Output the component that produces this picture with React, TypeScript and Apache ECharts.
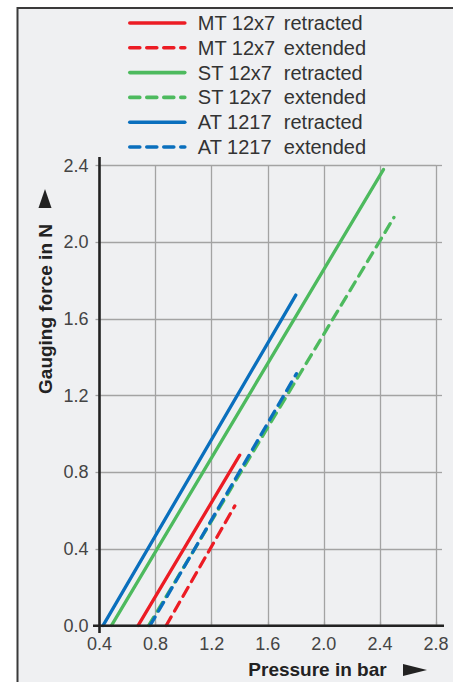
import React, { useEffect, useRef } from "react";
import * as echarts from "echarts";

const xTicks = { min: 0.4, max: 2.8, step: 0.4 };
const yTicks = { min: 0, max: 2.4, step: 0.4 };

const seriesNames = [
  "MT 12x7 retracted",
  "MT 12x7 extended",
  "ST 12x7 retracted",
  "ST 12x7 extended",
  "AT 1217 retracted",
  "AT 1217 extended",
];
const legendFirst = ["MT 12x7", "MT 12x7", "ST 12x7", "ST 12x7", "AT 1217", "AT 1217"];
const legendSecond = ["retracted", "extended", "retracted", "extended", "retracted", "extended"];

const mtRetracted = [[0.675, 0], [1.4, 0.89]];
const mtExtended = [[0.875, 0], [1.365, 0.625]];
const stRetracted = [[0.485, 0], [2.425, 2.38]];
const stExtended = [[0.75, 0], [2.5, 2.13]];
const atRetracted = [[0.425, 0], [1.8, 1.725]];
const atExtended = [[0.76, 0], [1.805, 1.315]];

const seriesData = [mtRetracted, mtExtended, stRetracted, stExtended, atRetracted, atExtended];
const seriesColors = ["#ec1c24", "#ec1c24", "#4dba5e", "#4dba5e", "#0a6fbd", "#0a6fbd"];
const seriesDashed = [false, true, false, true, false, true];

const FONT = "'Liberation Sans', Arial, sans-serif";

export default function App() {
  const ref = useRef<HTMLDivElement>(null);
  useEffect(() => {
    if (!ref.current) return;
    const chart = echarts.init(ref.current, null, { renderer: "svg" });
    const gridLeft = 99.5;
    const gridRight = 17;
    const gridTop = 165.7;
    const gridBottom = 56.3;
    const H = 682;
    const axisY = H - gridBottom;
    const axisX = gridLeft;

    const option: any = {
      animation: false,
      backgroundColor: "#ffffff",
      grid: { left: gridLeft, right: gridRight, top: gridTop, bottom: gridBottom, containLabel: false },
      xAxis: [
        {
          type: "value",
          min: xTicks.min,
          max: xTicks.max,
          interval: xTicks.step,
          axisLine: { show: false },
          axisTick: { show: false },
          axisLabel: {
            margin: 9,
            fontSize: 18,
            color: "#444",
            fontFamily: FONT,
            formatter: (v: number) => v.toFixed(1),
          },
          splitLine: { show: true, lineStyle: { color: "#a3a3a3", width: 1.3 } },
        },
        {
          type: "value",
          position: "top",
          min: xTicks.min,
          max: xTicks.max,
          interval: xTicks.step,
          axisLine: { show: false },
          axisTick: { show: true, length: 4, lineStyle: { color: "#a3a3a3", width: 1.3 } },
          axisLabel: { show: false },
          splitLine: { show: false },
        },
      ],
      yAxis: [
        {
          type: "value",
          min: yTicks.min,
          max: yTicks.max,
          interval: yTicks.step,
          axisLine: { show: false },
          axisTick: { show: true, length: 4, lineStyle: { color: "#a3a3a3", width: 1.3 } },
          axisLabel: {
            margin: 11,
            fontSize: 18,
            color: "#444",
            fontFamily: FONT,
            formatter: (v: number) => v.toFixed(1),
          },
          splitLine: { show: true, lineStyle: { color: "#a3a3a3", width: 1.3 } },
        },
        {
          type: "value",
          position: "right",
          min: yTicks.min,
          max: yTicks.max,
          interval: yTicks.step,
          axisLine: { show: false },
          axisTick: { show: true, length: 6, lineStyle: { color: "#a3a3a3", width: 1.3 } },
          axisLabel: { show: false },
          splitLine: { show: false },
        },
      ],
      legend: {
        orient: "vertical",
        left: 128,
        top: 13,
        padding: 0,
        itemWidth: 55,
        itemHeight: 14,
        itemGap: 4.8,
        selectedMode: false,
        data: seriesNames,
        itemStyle: { opacity: 0 },
        lineStyle: { width: 3.6 },
        formatter: (name: string) => {
          const i = seriesNames.indexOf(name);
          return "{a|" + legendFirst[i] + "}{b|" + legendSecond[i] + "}";
        },
        textStyle: {
          fontSize: 20,
          color: "#333",
          fontFamily: FONT,
          rich: {
            a: { width: 86, padding: [0, 0, 0, 8], fontSize: 20, color: "#333", fontFamily: FONT },
            b: { fontSize: 20, color: "#333", fontFamily: FONT },
          },
        },
      },
      series: seriesNames.map((name, i) => ({
        name,
        type: "line",
        xAxisIndex: 0,
        yAxisIndex: 0,
        data: seriesData[i],
        symbol: "none",
        showSymbol: false,
        color: seriesColors[i],
        lineStyle: {
          color: seriesColors[i],
          width: 3.3,
          type: seriesDashed[i] ? [10, 7] : "solid",
          cap: "round",
        },
        z: 3 + i,
      })),
      graphic: [
        {
          type: "rect",
          z: -10,
          shape: { x: 17.5, y: 8, width: 600, height: 900 },
          style: { fill: "#eff0f2", stroke: "#3a3a3a", lineWidth: 2 },
          silent: true,
        },
        {
          type: "line",
          z: 50,
          shape: { x1: 93, y1: axisY, x2: 444, y2: axisY },
          style: { stroke: "#222", lineWidth: 2.6 },
        },
        {
          type: "line",
          z: 50,
          shape: { x1: axisX, y1: 157, x2: axisX, y2: 633 },
          style: { stroke: "#222", lineWidth: 2.6 },
        },
        {
          type: "text",
          z: 50,
          x: 45,
          y: 309,
          rotation: Math.PI / 2,
          style: {
            text: "Gauging force in N",
            fontSize: 19,
            fontWeight: "bold",
            fontFamily: FONT,
            fill: "#222",
            align: "center",
            verticalAlign: "middle",
          },
        },
        {
          type: "polygon",
          z: 50,
          shape: { points: [[38.5, 208], [51.5, 208], [45, 189]] },
          style: { fill: "#222" },
        },
        {
          type: "text",
          z: 50,
          x: 317.5,
          y: 669,
          style: {
            text: "Pressure in bar",
            fontSize: 19,
            fontWeight: "bold",
            fontFamily: FONT,
            fill: "#222",
            align: "center",
            verticalAlign: "middle",
          },
        },
        {
          type: "polygon",
          z: 50,
          shape: { points: [[403, 664], [403, 676], [427, 670]] },
          style: { fill: "#222" },
        },
      ],
    };
    chart.setOption(option);
    return () => chart.dispose();
  }, []);
  return (
    <div
      ref={ref}
      style={{ position: "absolute", left: 0, top: 0, width: 453, height: 682 }}
    />
  );
}
